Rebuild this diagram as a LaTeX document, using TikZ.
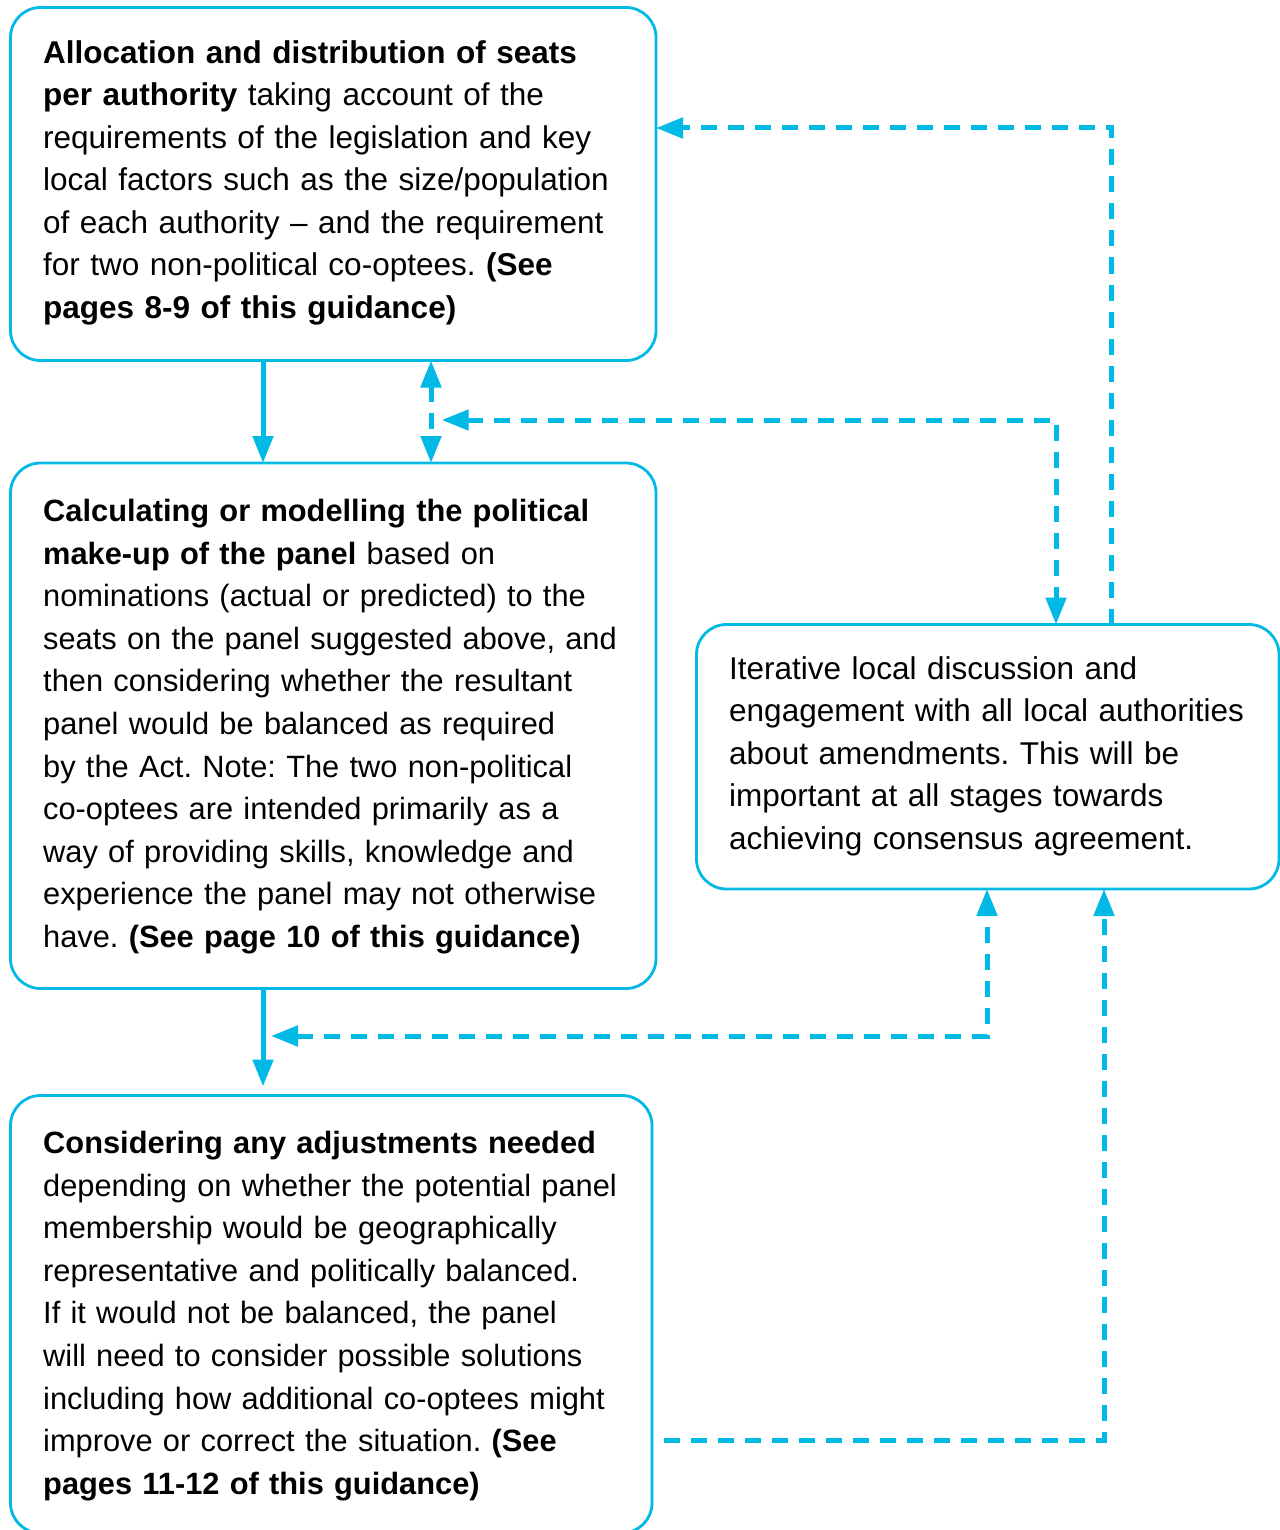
\documentclass[tikz,border=0pt]{standalone}
\usepackage{fontspec}
\setmainfont{Liberation Sans}
\usetikzlibrary{arrows.meta,calc}
\definecolor{flowcyan}{RGB}{0,185,228}
\frenchspacing
\begin{document}
\begin{tikzpicture}[x=1pt,y=-1pt,
  box/.style={draw=flowcyan, line width=2.8pt, rounded corners=30pt, inner sep=0pt, outer sep=0pt},
  txt/.style={anchor=north west, inner sep=0pt, text width=700pt, align=left},
  txtwide/.style={txt, font=\frenchspacing\fontsize{31.5}{42.5}\selectfont},
  txtnarrow/.style={txt, font=\frenchspacing\fontsize{30.8}{42.6}\selectfont},
  tip/.tip={Triangle[length=27pt,width=20pt]},
  solidarrow/.style={draw=flowcyan, line width=5pt, -tip},
  dasharrow/.style={draw=flowcyan, line width=5pt, dash pattern=on 16pt off 11pt, -tip},
  dashboth/.style={draw=flowcyan, line width=5pt, dash pattern=on 16pt off 11pt, tip-tip}]
\useasboundingbox (0,0) rectangle (1279,1530);
\fill[white] (0,0) rectangle (1279,1530);

% boxes
\node[box, minimum width=645.5pt, minimum height=353pt] (A) at (333.25,184) {};
\node[box, minimum width=645.5pt, minimum height=525.5pt] (B) at (333.25,725.75) {};
\node[box, minimum width=641.5pt, minimum height=437.5pt] (C) at (331.25,1314.25) {};
\node[box, minimum width=582.5pt, minimum height=264.5pt] (D) at (987.75,756.75) {};

% texts
\node[txtwide] (At) at (43,33.55) {\strut\textbf{Allocation and distribution of seats}\\
\textbf{per authority} taking account of the\\
requirements of the legislation and key\\
local factors such as the size/population\\
of each authority – and the requirement\\
for two non-political co-optees. \textbf{(See}\\
\textbf{pages 8-9 of this guidance)}};

\node[txtnarrow] (Bt) at (43,491.5) {\strut\textbf{Calculating or modelling the political}\\
\textbf{make-up of the panel} based on\\
nominations (actual or predicted) to the\\
seats on the panel suggested above, and\\
then considering whether the resultant\\
panel would be balanced as required\\
by the Act. Note: The two non-political\\
co-optees are intended primarily as a\\
way of providing skills, knowledge and\\
experience the panel may not otherwise\\
have. \textbf{(See page 10 of this guidance)}};

\node[txtnarrow] (Ct) at (43,1123.5) {\strut\textbf{Considering any adjustments needed}\\
depending on whether the potential panel\\
membership would be geographically\\
representative and politically balanced.\\
If it would not be balanced, the panel\\
will need to consider possible solutions\\
including how additional co-optees might\\
improve or correct the situation. \textbf{(See}\\
\textbf{pages 11-12 of this guidance)}};

\node[txtwide] (Dt) at (729,649.25) {\strut Iterative local discussion and\\
engagement with all local authorities\\
about amendments. This will be\\
important at all stages towards\\
achieving consensus agreement.};

% helper coordinates
\coordinate (xs) at (263,0);
\coordinate (xd) at (431,0);
\coordinate (xq) at (1056,0);
\coordinate (xr) at (1111,0);
\coordinate (xu) at (987,0);
\coordinate (xv) at (1104,0);
\coordinate (ya) at (0,128);
\coordinate (p1) at (441.7,420);
\coordinate (p2) at (271,1036);
\coordinate (c1) at (664,1440);

% connectors
\draw[solidarrow] (A.south -| xs) -- (B.north -| xs);
\draw[dashboth] (A.south -| xd) -- (B.north -| xd);
\draw[dashboth] (p1) -| (D.north -| xq);
\draw[dasharrow] (D.north -| xr) |- (ya -| A.east);
\draw[solidarrow, shorten >=9pt] (B.south -| xs) -- (C.north -| xs);
\draw[dashboth] (p2) -| (D.south -| xu);
\draw[dasharrow] (c1) -| (D.south -| xv);
\end{tikzpicture}
\end{document}
